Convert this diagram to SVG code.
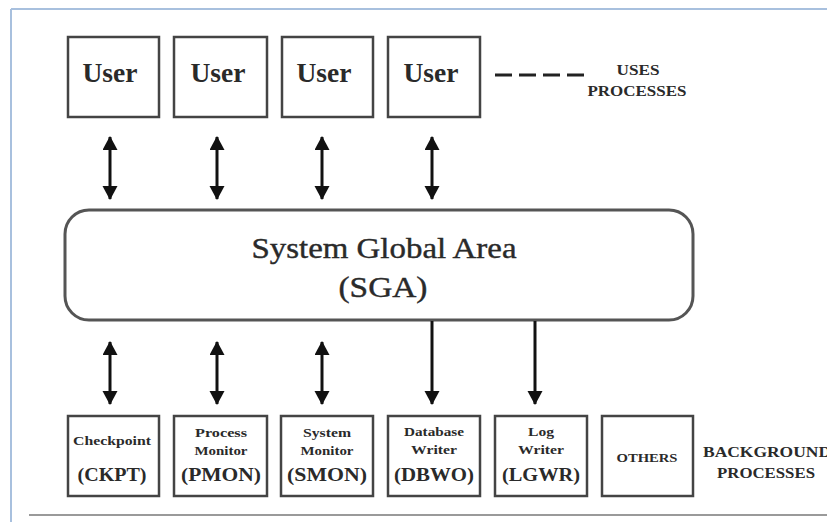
<svg xmlns="http://www.w3.org/2000/svg" width="827" height="522" viewBox="0 0 827 522">
<style>
.box{fill:#fff;stroke:#444;stroke-width:2.5}
.sga{fill:#fff;stroke:#555;stroke-width:3}
.t{fill:#2a2a2a;text-anchor:middle}
.b{font-weight:bold}
.conn{stroke:#111;stroke-width:3;fill:none}
</style>
<defs>
<marker id="ah" markerUnits="userSpaceOnUse" markerWidth="16" markerHeight="16" refX="13" refY="7.5" orient="auto-start-reverse">
<path d="M0,0 L14,7.5 L0,15 Z" fill="#111"/>
</marker>
</defs>
<rect width="827" height="522" fill="#fff"/>
<g id="frame">
<line x1="11" y1="9" x2="827" y2="9" stroke="#a8c0de" stroke-width="2"/>
<line x1="11" y1="9" x2="11" y2="522" stroke="#a8c0de" stroke-width="2"/>
<line x1="29" y1="515" x2="827" y2="515" stroke="#9a9a9a" stroke-width="2"/>
</g>
<g font-family="Liberation Serif, DejaVu Serif, serif">
<g id="user1"><rect class="box" x="68" y="37" width="91" height="80"/><text class="t b" x="110" y="82" font-size="27" textLength="55" lengthAdjust="spacingAndGlyphs">User</text></g>
<g id="user2"><rect class="box" x="174" y="37" width="93" height="80"/><text class="t b" x="218" y="82" font-size="27" textLength="55" lengthAdjust="spacingAndGlyphs">User</text></g>
<g id="user3"><rect class="box" x="282" y="37" width="91" height="80"/><text class="t b" x="324" y="82" font-size="27" textLength="55" lengthAdjust="spacingAndGlyphs">User</text></g>
<g id="user4"><rect class="box" x="388" y="37" width="92" height="80"/><text class="t b" x="431" y="82" font-size="27" textLength="55" lengthAdjust="spacingAndGlyphs">User</text></g>
<g id="uses-legend">
<line x1="495" y1="75" x2="585" y2="75" stroke="#222" stroke-width="3" stroke-dasharray="17 7"/>
<text class="t b" x="638" y="75" font-size="14" textLength="43" lengthAdjust="spacingAndGlyphs">USES</text>
<text class="t b" x="637" y="96" font-size="14" textLength="99" lengthAdjust="spacingAndGlyphs">PROCESSES</text>
</g>
<g id="sga">
<rect class="sga" x="65" y="210" width="628" height="110" rx="24" ry="24"/>
<text class="t" x="384" y="258" font-size="29" stroke="#2a2a2a" stroke-width="0.4" textLength="265" lengthAdjust="spacingAndGlyphs">System Global Area</text>
<text class="t" x="383" y="297" font-size="29" stroke="#2a2a2a" stroke-width="0.4" textLength="89" lengthAdjust="spacingAndGlyphs">(SGA)</text>
</g>
<g id="ckpt"><rect class="box" x="68" y="416" width="91" height="80"/>
<text class="t b" x="112" y="445" font-size="13" textLength="78" lengthAdjust="spacingAndGlyphs">Checkpoint</text>
<text class="t b" x="112" y="481" font-size="18" textLength="69" lengthAdjust="spacingAndGlyphs">(CKPT)</text></g>
<g id="pmon"><rect class="box" x="174" y="416" width="93" height="80"/>
<text class="t b" x="221" y="437" font-size="13" textLength="52" lengthAdjust="spacingAndGlyphs">Process</text>
<text class="t b" x="221" y="455" font-size="13" textLength="53" lengthAdjust="spacingAndGlyphs">Monitor</text>
<text class="t b" x="221" y="481" font-size="18" textLength="80" lengthAdjust="spacingAndGlyphs">(PMON)</text></g>
<g id="smon"><rect class="box" x="281" y="416" width="92" height="80"/>
<text class="t b" x="327" y="437" font-size="13" textLength="48" lengthAdjust="spacingAndGlyphs">System</text>
<text class="t b" x="327" y="455" font-size="13" textLength="53" lengthAdjust="spacingAndGlyphs">Monitor</text>
<text class="t b" x="327" y="481" font-size="18" textLength="80" lengthAdjust="spacingAndGlyphs">(SMON)</text></g>
<g id="dbwo"><rect class="box" x="388" y="416" width="92" height="80"/>
<text class="t b" x="434" y="436" font-size="13" textLength="60" lengthAdjust="spacingAndGlyphs">Database</text>
<text class="t b" x="434" y="454" font-size="13" textLength="46" lengthAdjust="spacingAndGlyphs">Writer</text>
<text class="t b" x="434" y="481" font-size="18" textLength="80" lengthAdjust="spacingAndGlyphs">(DBWO)</text></g>
<g id="lgwr"><rect class="box" x="495" y="416" width="92" height="80"/>
<text class="t b" x="541" y="436" font-size="13" textLength="26" lengthAdjust="spacingAndGlyphs">Log</text>
<text class="t b" x="541" y="454" font-size="13" textLength="46" lengthAdjust="spacingAndGlyphs">Writer</text>
<text class="t b" x="541" y="481" font-size="18" textLength="78" lengthAdjust="spacingAndGlyphs">(LGWR)</text></g>
<g id="others"><rect class="box" x="602" y="416" width="91" height="80"/>
<text class="t b" x="647" y="462" font-size="13" textLength="61" lengthAdjust="spacingAndGlyphs">OTHERS</text></g>
<g id="bg-legend">
<text class="t b" x="767" y="457" font-size="15" textLength="128" lengthAdjust="spacingAndGlyphs">BACKGROUND</text>
<text class="t b" x="766" y="478" font-size="15" textLength="98" lengthAdjust="spacingAndGlyphs">PROCESSES</text>
</g>
</g>
<g id="connectors">
<line class="conn" x1="110" y1="137" x2="110" y2="199" marker-start="url(#ah)" marker-end="url(#ah)"/>
<line class="conn" x1="217" y1="137" x2="217" y2="199" marker-start="url(#ah)" marker-end="url(#ah)"/>
<line class="conn" x1="322" y1="137" x2="322" y2="199" marker-start="url(#ah)" marker-end="url(#ah)"/>
<line class="conn" x1="432" y1="137" x2="432" y2="199" marker-start="url(#ah)" marker-end="url(#ah)"/>
<line class="conn" x1="110" y1="342" x2="110" y2="404" marker-start="url(#ah)" marker-end="url(#ah)"/>
<line class="conn" x1="217" y1="342" x2="217" y2="404" marker-start="url(#ah)" marker-end="url(#ah)"/>
<line class="conn" x1="322" y1="342" x2="322" y2="404" marker-start="url(#ah)" marker-end="url(#ah)"/>
<line class="conn" x1="432" y1="321" x2="432" y2="404" marker-end="url(#ah)"/>
<line class="conn" x1="535" y1="321" x2="535" y2="404" marker-end="url(#ah)"/>
</g>
</svg>
